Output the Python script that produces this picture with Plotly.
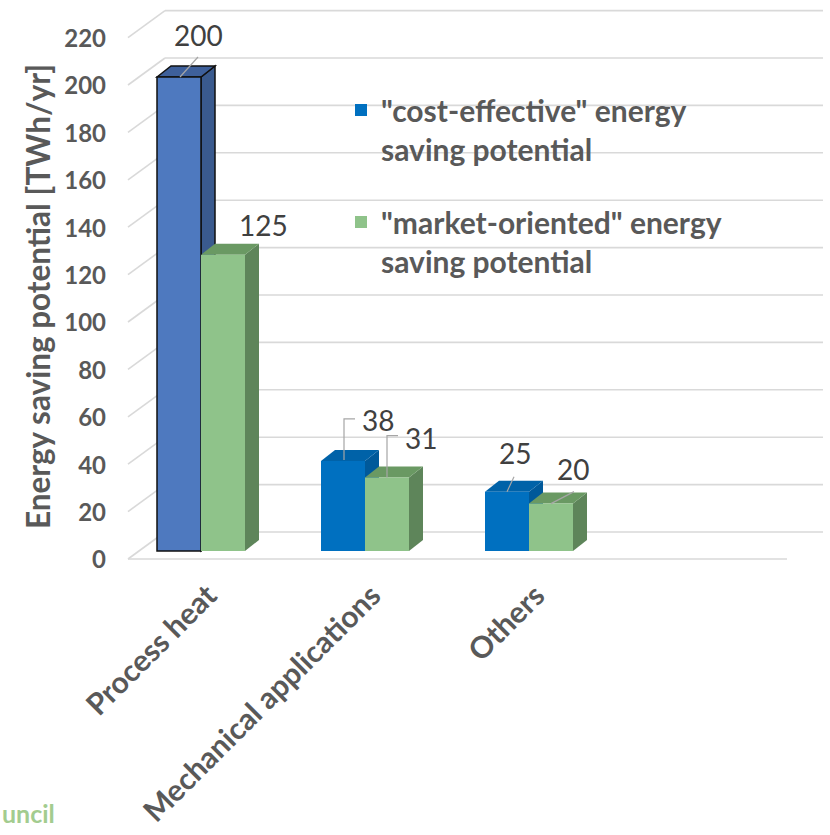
import plotly.graph_objects as go

# ---- data ----
categories = ["Process heat", "Mechanical applications", "Others"]
cost_effective = [200, 38, 25]
market_oriented = [125, 31, 20]
series_names = ['"cost-effective" energy<br>saving potential',
                '"market-oriented" energy<br>saving potential']
y_ticks = [0, 20, 40, 60, 80, 100, 120, 140, 160, 180, 200, 220]

# ---- geometry (pixels of the 830x835 page) ----
W, H = 830, 835
PX_PER_CAT = 164.0          # horizontal distance between category groups
CAT0_PX = 201.0             # page x of the first group centre
PX_PER_UNIT = 2.37          # vertical pixels per TWh/yr
BASE_PX = 551.0             # page y of the bar bases (front face)
AXIS_BOTTOM_PX = 574.0      # page y of the bottom of the plotting domain
BAR_W = 44.0 / PX_PER_CAT   # width of one bar in category units
DEPTH_X = 14.0 / PX_PER_CAT # 3-D depth offset, x
DEPTH_Y = 11.0 / PX_PER_UNIT  # 3-D depth offset, y

x_range = [-CAT0_PX / PX_PER_CAT, (W - CAT0_PX) / PX_PER_CAT]
y_top = BASE_PX / PX_PER_UNIT
y_bot = -(AXIS_BOTTOM_PX - BASE_PX) / PX_PER_UNIT
y_domain = [(H - AXIS_BOTTOM_PX) / H, 1.0]
LABEL_SHIFT = 3.8            # tick labels sit slightly in front of the bars
WALL_SHIFT = 19.0 / PX_PER_UNIT   # back wall lies behind the bars
FRONT_SHIFT = -8.0 / PX_PER_UNIT  # front edge of the floor

# ---- colours ----
BLUE = "#0070C0"; BLUE_SIDE = "#00599A"; BLUE_TOP = "#0062A8"
HL_BLUE = "#4E79BF"; HL_SIDE = "#3A5A8E"; HL_TOP = "#3E609B"
GREEN = "#8FC38A"; GREEN_SIDE = "#5E855A"; GREEN_TOP = "#6A9963"
GRID = "#D9D9D9"
TXT = "#595959"

xs = list(range(len(categories)))

fig = go.Figure()

# blue series (listed from last to first so the legend swatch uses the plain blue)
order = xs[::-1]
blue_fill = [HL_BLUE if i == 0 else BLUE for i in order]
blue_line = [1.5 if i == 0 else 0 for i in order]
fig.add_trace(go.Bar(
    x=order, y=[cost_effective[i] for i in order], name=series_names[0],
    legendgroup="a",
    marker=dict(color=blue_fill, line=dict(color="#111111", width=blue_line)),
))
fig.add_trace(go.Bar(
    x=xs, y=market_oriented, name=series_names[1], legendgroup="b",
    marker=dict(color=GREEN, line=dict(width=0)),
))

shapes = []

# back-wall gridlines with the slanted side-wall segments
for v in y_ticks:
    shapes.append(dict(type="line", xref="paper", yref="y", layer="below",
                       x0=128 / W, x1=165 / W, y0=v + FRONT_SHIFT, y1=v + WALL_SHIFT,
                       line=dict(color=GRID, width=1.6)))
    shapes.append(dict(type="line", xref="paper", yref="y", layer="below",
                       x0=165 / W, x1=823 / W, y0=v + WALL_SHIFT, y1=v + WALL_SHIFT,
                       line=dict(color=GRID, width=1.6)))
# front edge of the floor
shapes.append(dict(type="line", xref="paper", yref="y", layer="below",
                   x0=128 / W, x1=787 / W, y0=FRONT_SHIFT, y1=FRONT_SHIFT,
                   line=dict(color=GRID, width=1.6)))


def faces(xl, xr, v, side_col, top_col, outline):
    ln = dict(color="#111111", width=1.5) if outline else dict(width=0)
    side = (f"M{xr},0 L{xr + DEPTH_X},{DEPTH_Y} L{xr + DEPTH_X},{v + DEPTH_Y} "
            f"L{xr},{v} Z")
    top = (f"M{xl},{v} L{xl + DEPTH_X},{v + DEPTH_Y} L{xr + DEPTH_X},{v + DEPTH_Y} "
           f"L{xr},{v} Z")
    return [dict(type="path", xref="x", yref="y", layer="below", path=side,
                 fillcolor=side_col, line=ln),
            dict(type="path", xref="x", yref="y", layer="below", path=top,
                 fillcolor=top_col, line=ln)]


for i in xs:
    hl = i == 0
    shapes += faces(i - BAR_W, i, cost_effective[i],
                    HL_SIDE if hl else BLUE_SIDE, HL_TOP if hl else BLUE_TOP, hl)
    shapes += faces(i, i + BAR_W, market_oriented[i], GREEN_SIDE, GREEN_TOP, False)

# value labels: (series, category) -> label offset and leader path, in pixels
label_style = {
    (0, 0): dict(text=(19, -42), leader=[(1, 0), (19, -20)]),
    (1, 0): dict(text=(40, -30), leader=[]),
    (0, 1): dict(text=(35, -41), leader=[(1, -1), (1, -42), (12, -42)]),
    (1, 1): dict(text=(34, -40), leader=[(0, 0), (0, -42), (11, -42)]),
    (0, 2): dict(text=(8, -39), leader=[(0, 0), (7, -15)]),
    (1, 2): dict(text=(22, -35), leader=[(0, 0), (23, -12)]),
}
annotations = []
for s, vals in enumerate([cost_effective, market_oriented]):
    for i in xs:
        v = vals[i]
        cx = i - BAR_W / 2 if s == 0 else i + BAR_W / 2
        st = label_style[(s, i)]
        annotations.append(dict(x=cx, y=v, xref="x", yref="y", text=str(v),
                                showarrow=False, xshift=st["text"][0],
                                yshift=-st["text"][1],
                                font=dict(family="Lato", size=28, color="#404040")))
        pts = st["leader"]
        if pts:
            path = " ".join(
                ("M" if k == 0 else "L") +
                f"{cx + px / PX_PER_CAT},{v - py / PX_PER_UNIT}"
                for k, (px, py) in enumerate(pts))
            shapes.append(dict(type="path", xref="x", yref="y", layer="above",
                               path=path, line=dict(color="#A6A6A6", width=1.2)))

# vertical axis title
annotations.append(dict(x=38 / W, y=(H - 297) / H, xref="paper", yref="paper",
                        xanchor="center", yanchor="middle", showarrow=False,
                        textangle=-90, text="Energy saving potential [TWh/yr]",
                        font=dict(family="Lato", size=31.5, color=TXT, weight="bold")))

annotations.append(dict(x=0, y=(H - 813) / H, xref="paper", yref="paper",
                        xanchor="left", yanchor="middle", showarrow=False,
                        text="uncil",
                        font=dict(family="Lato", size=25, color="#A3CC8F", weight="bold")))

fig.update_layout(
    width=W, height=H,
    margin=dict(l=0, r=0, t=0, b=0),
    paper_bgcolor="white", plot_bgcolor="rgba(0,0,0,0)",
    barmode="group", bargap=1 - 2 * BAR_W, bargroupgap=0,
    shapes=shapes, annotations=annotations,
    showlegend=True,
    legend=dict(x=341 / W, y=(H - 84) / H, xanchor="left", yanchor="top",
                bgcolor="rgba(0,0,0,0)", valign="top", tracegroupgap=31,
                traceorder="grouped",
                font=dict(family="Lato", size=30, color=TXT, weight="bold")),
    xaxis=dict(range=x_range, domain=[0, 1], tickvals=xs, ticktext=categories,
               tickangle=-45, showgrid=False, zeroline=False, showline=False,
               ticks="", ticklabelshift=7, ticklabelstandoff=-3,
               tickfont=dict(family="Lato", size=30, color=TXT, weight="bold")),
    yaxis=dict(range=[y_bot, y_top], domain=y_domain, showgrid=False,
               zeroline=False, showticklabels=False, showline=False),
    yaxis2=dict(range=[y_bot + LABEL_SHIFT, y_top + LABEL_SHIFT], domain=y_domain,
                overlaying="y", anchor="free", position=106 / W, side="left",
                tickvals=y_ticks, ticks="", showgrid=False, zeroline=False,
                showline=False,
                tickfont=dict(family="Lato", size=24, color=TXT, weight="bold")),
)

# invisible helper so the secondary axis gets drawn
fig.add_trace(go.Scatter(x=[None], y=[None], yaxis="y2", showlegend=False,
                         hoverinfo="skip"))

fig.write_html("out.html")
